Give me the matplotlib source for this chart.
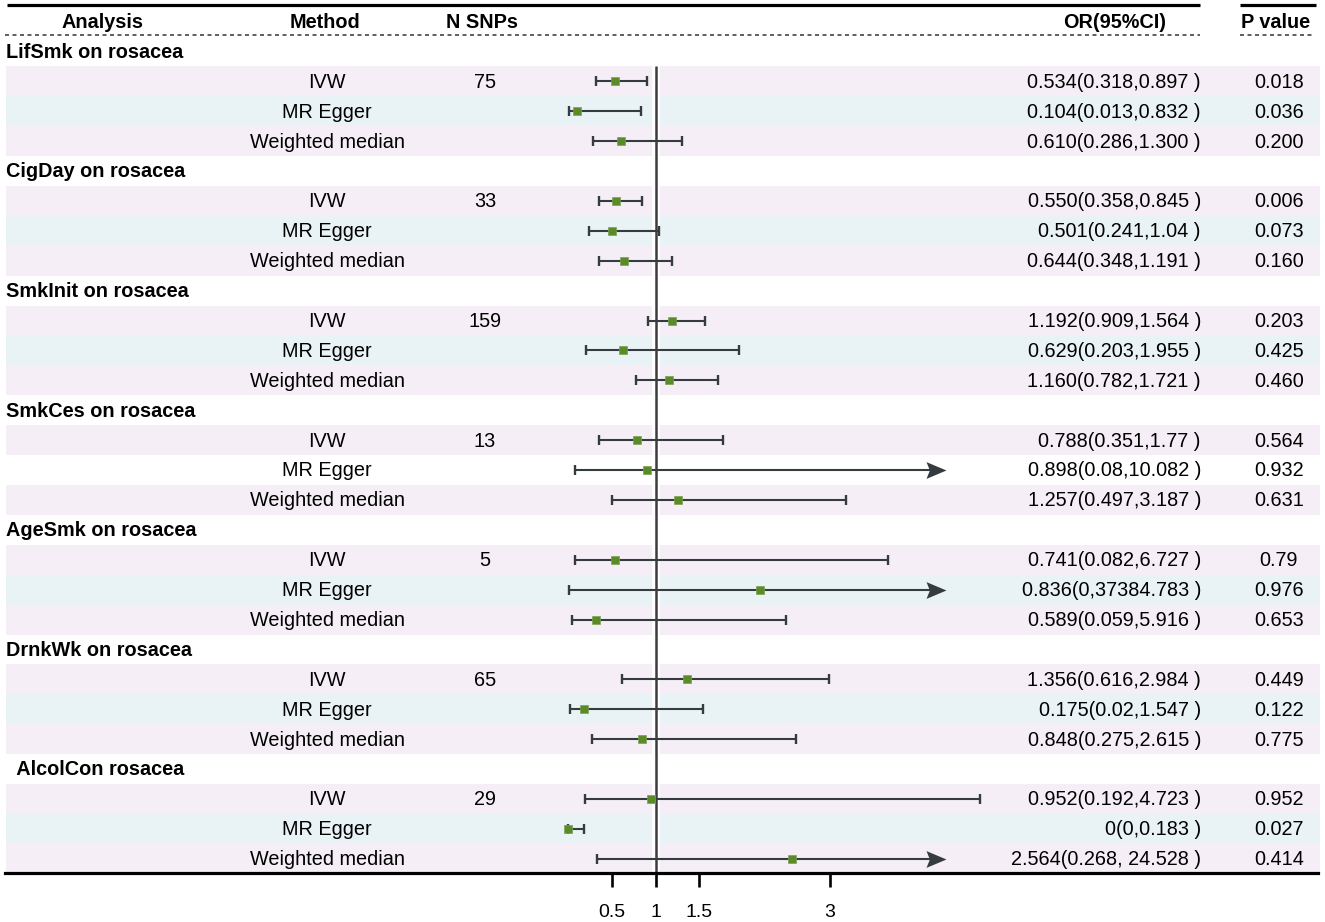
import matplotlib
matplotlib.use("Agg")
import matplotlib.pyplot as plt
from matplotlib.path import Path
from matplotlib.transforms import blended_transform_factory

# ---------------- data ----------------
groups = ["LifSmk on rosacea", "CigDay on rosacea", "SmkInit on rosacea",
          "SmkCes on rosacea", "AgeSmk on rosacea", "DrnkWk on rosacea",
          "  AlcolCon rosacea"]
methods = ["IVW", "MR Egger", "Weighted median"]
n_snps = ["75", "33", "159", "13", "5", "65", "29"]

or_text = [
    "0.534(0.318,0.897 )", "0.104(0.013,0.832 )", "0.610(0.286,1.300 )",
    "0.550(0.358,0.845 )", "0.501(0.241,1.04 )", "0.644(0.348,1.191 )",
    "1.192(0.909,1.564 )", "0.629(0.203,1.955 )", "1.160(0.782,1.721 )",
    "0.788(0.351,1.77 )", "0.898(0.08,10.082 )", "1.257(0.497,3.187 )",
    "0.741(0.082,6.727 )", "0.836(0,37384.783 )", "0.589(0.059,5.916 )",
    "1.356(0.616,2.984 )", "0.175(0.02,1.547 )", "0.848(0.275,2.615 )",
    "0.952(0.192,4.723 )", "0(0,0.183 )", "2.564(0.268, 24.528 )",
]
p_text = ["0.018", "0.036", "0.200",
          "0.006", "0.073", "0.160",
          "0.203", "0.425", "0.460",
          "0.564", "0.932", "0.631",
          "0.79", "0.976", "0.653",
          "0.449", "0.122", "0.775",
          "0.952", "0.027", "0.414"]

# plotted estimates / intervals
est = [0.534, 0.104, 0.610,
       0.550, 0.501, 0.644,
       1.192, 0.629, 1.160,
       0.788, 0.898, 1.257,
       0.536, 2.200, 0.317,
       1.356, 0.175, 0.848,
       0.952, 0.000, 2.564]
lo = [0.318, 0.013, 0.286,
      0.358, 0.241, 0.348,
      0.909, 0.203, 0.782,
      0.351, 0.080, 0.497,
      0.078, 0.006, 0.044,
      0.616, 0.020, 0.275,
      0.192, 0.000, 0.328]
hi = [0.897, 0.832, 1.300,
      0.845, 1.040, 1.191,
      1.564, 1.955, 1.721,
      1.770, 10.082, 3.187,
      3.670, 37384.783, 2.490,
      2.984, 1.547, 2.615,
      4.723, 0.183, 24.528]

x_ticks = [0.5, 1, 1.5, 3]
x_tick_labels = ["0.5", "1", "1.5", "3"]
headers = ["Analysis", "Method", "N SNPs", "OR(95%CI)", "P value"]

# ---------------- styling ----------------
plt.rcParams['font.family'] = ['Liberation Sans', 'DejaVu Sans']
FS = 14.3
PINK = "#f5eef6"
BLUE = "#e9f3f5"
LINE = "#343c40"
SQ = "#5b8a2a"
REF = "#3d3d3d"
CLIP = 4.33      # arrow tip position for very wide intervals
ARROW_LIMIT = 5.0

W, H = 1325, 922
fig = plt.figure(figsize=(W / 100, H / 100), dpi=100)
ax = fig.add_axes([0, 0, 1, 1])

X0, XS = 568.25, 87.25       # pixel position of 0, pixels per unit
R0, RS = 51.5, 29.9          # pixel center of row 1, row spacing


def k_of(py):
    return 1 + (py - R0) / RS


def xd(px):
    return (px - X0) / XS


ax.set_xlim(xd(0), xd(W))
ax.set_ylim(k_of(H), k_of(0))
tr = blended_transform_factory(ax.transAxes, ax.transData)
TY = 0.03  # small downward text nudge (row units)

# rows
rows = []
for g in range(len(groups)):
    for m in range(len(methods)):
        rows.append((g, m, 2 + 4 * g + m))

# background bands
for i, (g, m, k) in enumerate(rows):
    col = BLUE if m == 1 else PINK
    if g == 3 and m == 1:
        col = "white"
    ax.axhspan(k - 0.5, k + 0.5, xmin=6 / W, xmax=1320 / W, color=col, lw=0, zorder=0)

# white strip behind the reference line
ax.vlines(1, k_of(66), k_of(872), color="white", lw=5.5, zorder=1)

# header lines
ax.hlines(k_of(5), xd(7), xd(1200), color="black", lw=2.3, zorder=3)
ax.hlines(k_of(5), xd(1240), xd(1316), color="black", lw=2.3, zorder=3)
ax.hlines(k_of(35), xd(5), xd(1200), color="#444444", lw=1.2,
          linestyles=(0, (2.4, 2.1)), zorder=3)
ax.hlines(k_of(35), xd(1240), xd(1313), color="#444444", lw=1.2,
          linestyles=(0, (2.4, 2.1)), zorder=3)

# header text
hdr_x = [103, 325, 482, 1115, 1276]
for h, x in zip(headers, hdr_x):
    ax.text(x / W, 0 + TY, h, transform=tr, ha="center", va="center",
            fontsize=FS, fontweight="bold")

# group labels
for g, name in enumerate(groups):
    ax.text(6 / W, 1 + 4 * g + TY, name, transform=tr, ha="left", va="center",
            fontsize=FS, fontweight="bold")

# method / N / OR / P columns
for i, (g, m, k) in enumerate(rows):
    ax.text(327 / W, k + TY, methods[m], transform=tr, ha="center", va="center", fontsize=FS)
    if m == 0:
        ax.text(485 / W, k + TY, n_snps[g], transform=tr, ha="center", va="center", fontsize=FS)
    ax.text(1201 / W, k + TY, or_text[i], transform=tr, ha="right", va="center", fontsize=FS)
    ax.text(1279 / W, k + TY, p_text[i], transform=tr, ha="center", va="center", fontsize=FS)

# arrowhead marker (tip at origin)
arrow_path = Path([(0, 0), (-1, 0.42), (-0.83, 0), (-1, -0.42), (0, 0)],
                  [Path.MOVETO, Path.LINETO, Path.LINETO, Path.LINETO, Path.CLOSEPOLY])

# intervals
for i, (g, m, k) in enumerate(rows):
    arrow = hi[i] > ARROW_LIMIT
    right = CLIP if arrow else hi[i]
    ax.hlines(k, lo[i], right - (0.15 if arrow else 0), color=LINE, lw=1.5, zorder=4)
    ax.plot([lo[i]], [k], marker="|", ms=6.5, mew=1.7, color=LINE, zorder=4)
    if arrow:
        ax.plot([CLIP], [k], marker=arrow_path, ms=28.8, color=LINE, mew=0, zorder=4)
    else:
        ax.plot([hi[i]], [k], marker="|", ms=6.5, mew=1.7, color=LINE, zorder=4)

# reference line
ax.vlines(1, k_of(66), k_of(872), color=REF, lw=1.8, zorder=5)

# point estimates
for i, (g, m, k) in enumerate(rows):
    ax.plot([est[i]], [k], marker="s", ms=6, mfc=SQ, mec="#7aa24e", mew=0.5, zorder=6)

# x axis
for s in ["left", "right", "top"]:
    ax.spines[s].set_visible(False)
ax.spines["bottom"].set_position(("data", k_of(873)))
ax.spines["bottom"].set_bounds(xd(5), xd(1318))
ax.spines["bottom"].set_linewidth(2.3)
ax.spines["bottom"].set_zorder(7)
ax.set_yticks([])
ax.set_xticks(x_ticks, x_tick_labels)
ax.tick_params(axis="x", direction="out", length=10, width=1.9, labelsize=14, pad=12)

fig.savefig("out.png", dpi=100)
